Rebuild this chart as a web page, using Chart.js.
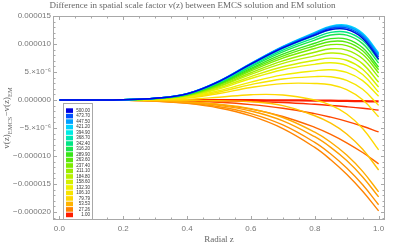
<!DOCTYPE html>
<html>
<head>
<meta charset="utf-8">
<script src="https://cdn.jsdelivr.net/npm/chart.js@4.4.1/dist/chart.umd.min.js"></script>
<style>
html,body{margin:0;padding:0;background:#fff}
#c{display:block}
</style>
</head>
<body>
<canvas id="c" width="409" height="248"></canvas>
<script>
/* ===== DATA (values in units of 1e-6) ===== */
const zs=[0,0.1,0.2,0.3,0.4,0.5,0.6,0.7,0.8,0.85,0.9,0.95,1];

const s500=[0,0,0.05,0.3,1.1,3.3,6.4,9.3,11.6,12.6,12.6,11.0,7.3];
const s474=[0,0,0.05,0.3,1.11,3.33,6.46,9.4,11.77,12.82,12.87,11.33,7.7];
const s448=[0,0,0.05,0.31,1.12,3.36,6.52,9.51,11.94,13.03,13.14,11.66,8.1];
const s421=[0,0,0.05,0.31,1.13,3.38,6.56,9.58,12.07,13.19,13.34,11.9,8.4];
const s395=[0,0,0.05,0.31,1.12,3.33,6.47,9.44,11.87,12.96,13.08,11.63,8.13];
const s369=[0,0,0.05,0.3,1.09,3.24,6.29,9.18,11.51,12.55,12.62,11.16,7.68];
const s342=[0,0,0.05,0.29,1.05,3.15,6.11,8.89,11.11,12.08,12.1,10.62,7.14];
const s316=[0,0,0.05,0.28,1.02,3.05,5.92,8.6,10.7,11.61,11.58,10.07,6.59];
const s290=[0,0,0.05,0.26,0.97,2.92,5.66,8.19,10.14,10.96,10.87,9.32,5.87];
const s264=[0,0,0.04,0.25,0.93,2.8,5.43,7.85,9.69,10.45,10.33,8.79,5.4];
const s237=[0,0,0.04,0.24,0.88,2.68,5.19,7.48,9.19,9.88,9.71,8.17,4.83];
const s211=[0,0,0.04,0.22,0.83,2.51,4.87,6.99,8.53,9.14,8.91,7.36,4.09];
const s185=[0,0,0.04,0.21,0.77,2.37,4.58,6.53,7.88,8.38,8.06,6.45,3.17];
const s159=[0,0,0.04,0.19,0.7,2.16,4.18,5.94,7.09,7.48,7.1,5.49,2.31];
const s140=[0,0,0.03,0.17,0.64,1.99,3.84,5.41,6.37,6.65,6.19,4.56,1.41];
const s125=[0,0,0.03,0.14,0.53,1.66,3.2,4.48,5.21,5.4,4.93,3.46,0.68];
const s110=[0,0,0.03,0.11,0.44,1.43,2.75,3.76,4.17,4.16,3.52,1.91,-0.96];
const s95=[0,0,0.02,0.08,0.34,1.17,2.24,2.93,2.95,2.72,1.84,0.03,-3.0];
const s80=[0,0,0.02,0.04,0.12,0.5,0.95,0.9,0.0,-0.9,-2.5,-5.08,-8.9];
const s65=[0,0,-0.01,-0.04,-0.08,-0.13,-0.3,-1.0,-2.81,-4.14,-6.06,-8.79,-12.5];
const s50=[0,0,-0.03,-0.13,-0.38,-0.77,-1.56,-3.12,-5.75,-7.54,-9.84,-12.75,-16.4];
const s42=[0,0,-0.03,-0.15,-0.45,-0.97,-1.96,-3.72,-6.56,-8.46,-10.82,-13.74,-17.3];
const s35=[0,0,-0.04,-0.18,-0.54,-1.21,-2.43,-4.46,-7.58,-9.65,-12.15,-15.15,-18.7];
const s28=[0,0,-0.04,-0.2,-0.61,-1.43,-2.85,-5.11,-8.47,-10.67,-13.27,-16.3,-19.8];
const s20=[0,0,-0.02,-0.11,-0.35,-0.82,-1.64,-2.94,-4.88,-6.14,-7.64,-9.38,-11.4];
const s12=[0,0,-0.01,-0.06,-0.18,-0.41,-0.82,-1.47,-2.44,-3.07,-3.82,-4.69,-5.7];
const s5=[0,0,0,-0.02,-0.06,-0.13,-0.26,-0.46,-0.77,-0.97,-1.21,-1.48,-1.8];
const s1=[0,0,0,0,-0.01,-0.02,-0.04,-0.06,-0.11,-0.13,-0.17,-0.21,-0.25];

// parameter of each curve (sets its colour), same order as seriesList
const params=[500,473.7,447.5,421.2,394.9,368.7,342.4,316.2,289.9,263.6,237.4,211.1,184.8,158.6,140,125,110,95,80,65,50,42,35,28,20,12,5,1];
const seriesList=[s500,s474,s448,s421,s395,s369,s342,s316,s290,s264,s237,s211,s185,s159,s140,s125,s110,s95,s80,s65,s50,s42,s35,s28,s20,s12,s5,s1];

const legendVals=[500,473.7,447.5,421.2,394.9,368.7,342.4,316.2,289.9,263.6,237.4,211.1,184.8,158.6,132.3,106.1,79.79,53.53,27.26,1];
const legendLabels=["500.00","473.70","447.50","421.20","394.90","368.70","342.40","316.20","289.90","263.60","237.40","211.10","184.80","158.60","132.30","106.10","79.79","53.53","27.26","1.00"];

const xTicks=[0,0.2,0.4,0.6,0.8,1.0];
const yTickVals=[-20,-15,-10,-5,0,5,10,15];
const yTickLabels=["\u22120.000020","\u22120.000015","\u22120.000010","\u22125.\u00d710\u207b\u2076","0.000000","5.\u00d710\u207b\u2076","0.000010","0.000015"];

const TITLE="Difference in spatial scale factor v(z) between EMCS solution and EM solution";

/* ===== COLOURS ===== */
const stops=[[1,[255,30,0]],[27,[255,130,0]],[53,[255,178,0]],[80,[255,215,0]],[132,[240,240,0]],[185,[185,240,0]],[237,[125,236,0]],[290,[55,230,25]],[340,[0,230,130]],[395,[0,236,228]],[421,[0,210,255]],[447,[0,160,255]],[474,[0,80,255]],[500,[0,0,225]]];
function colorOf(p){
  for(let i=1;i<stops.length;i++){
    if(p<=stops[i][0]){
      const a=stops[i-1],b=stops[i],t=(p-a[0])/(b[0]-a[0]);
      const c=a[1].map((v,k)=>Math.round(v+(b[1][k]-v)*t));
      return "rgb("+c.join(",")+")";
    }
  }
  return "rgb(0,0,225)";
}

/* ===== FRAME, TICKS, Y LABEL, LEGEND ===== */
const framePlugin={
  id:"frame",
  afterDraw(chart){
    const ctx=chart.ctx,a=chart.chartArea,xs=chart.scales.x,ys=chart.scales.y;
    ctx.save();
    ctx.strokeStyle="#a8a8a8";ctx.lineWidth=1;
    ctx.strokeRect(a.left+0.5,a.top+0.5,a.right-a.left-1,a.bottom-a.top-1);
    ctx.beginPath();
    for(let v=0;v<=1.0001;v+=0.05){
      const px=Math.round(xs.getPixelForValue(v))+0.5;
      const major=Math.abs(v/0.2-Math.round(v/0.2))<1e-6;
      const L=major?4:2.5;
      ctx.moveTo(px,a.bottom);ctx.lineTo(px,a.bottom-L);
      ctx.moveTo(px,a.top);ctx.lineTo(px,a.top+L);
    }
    for(let v=-21;v<=15;v++){
      const py=Math.round(ys.getPixelForValue(v))+0.5;
      const L=(v%5===0)?4:2.5;
      ctx.moveTo(a.left,py);ctx.lineTo(a.left+L,py);
      ctx.moveTo(a.right,py);ctx.lineTo(a.right-L,py);
    }
    ctx.stroke();

    // y axis label with subscripts
    ctx.fillStyle="#666";
    const big="9px 'Liberation Serif'",small="6.5px 'Liberation Serif'";
    const parts=[["v(z)",big,0],["EMCS",small,2.5],["\u2212v(z)",big,0],["EM",small,2.5]];
    let w=0;
    parts.forEach(p=>{ctx.font=p[1];w+=ctx.measureText(p[0]).width;});
    ctx.translate(9,(a.top+a.bottom)/2);
    ctx.rotate(-Math.PI/2);
    ctx.textBaseline="alphabetic";ctx.textAlign="left";
    let x=-w/2;
    parts.forEach(p=>{ctx.font=p[1];ctx.fillText(p[0],x,p[2]);x+=ctx.measureText(p[0]).width;});
    ctx.restore();

    // legend box
    ctx.save();
    ctx.fillStyle="#fff";ctx.strokeStyle="#a8a8a8";ctx.lineWidth=1;
    ctx.fillRect(63.5,103.5,29,116);ctx.strokeRect(63.5,103.5,29,116);
    ctx.font="4.5px 'Liberation Sans'";ctx.textAlign="right";ctx.textBaseline="middle";
    legendVals.forEach((p,i)=>{
      const y=108.3+i*5.49;
      ctx.fillStyle=colorOf(p);
      ctx.fillRect(66,y,7,4.6);
      ctx.fillStyle="#333";
      ctx.fillText(legendLabels[i],90,y+2.4);
    });
    ctx.restore();
  }
};

/* ===== CHART ===== */
const datasets=seriesList.map((s,i)=>({
  data:s.map((v,k)=>({x:zs[k],y:v})),
  borderColor:colorOf(params[i]),
  borderWidth:params[i]===1?2.2:1.4,
  pointRadius:0,
  fill:false,
  tension:0.4
}));

new Chart(document.getElementById("c"),{
  type:"line",
  data:{datasets:datasets},
  options:{
    responsive:false,
    animation:false,
    layout:{padding:{left:0,right:24,top:0,bottom:0}},
    plugins:{
      legend:{display:false},
      tooltip:{enabled:false},
      title:{display:true,text:TITLE,color:"#666",font:{family:"Liberation Serif",size:9,weight:"normal"},padding:{top:0,bottom:5.2}}
    },
    scales:{
      x:{
        type:"linear",min:-0.02,max:1.02,
        afterBuildTicks:s=>{s.ticks=xTicks.map(v=>({value:v}));},
        afterFit:s=>{s.height=28;},
        grid:{display:false,drawTicks:false},
        border:{display:false},
        ticks:{color:"#777",font:{family:"Liberation Sans",size:8},padding:4,maxRotation:0,autoSkip:false,callback:v=>v.toFixed(1)},
        title:{display:true,text:"Radial z",color:"#666",font:{family:"Liberation Serif",size:9},padding:{top:0,bottom:2.6}}
      },
      y:{
        type:"linear",min:-21.43,max:15,
        afterBuildTicks:s=>{s.ticks=yTickVals.map(v=>({value:v}));},
        afterFit:s=>{s.width=53;},
        grid:{display:false,drawTicks:false},
        border:{display:false},
        ticks:{color:"#777",font:{family:"Liberation Sans",size:8},padding:2,autoSkip:false,callback:(v,i)=>yTickLabels[i]}
      }
    }
  },
  plugins:[framePlugin]
});
</script>
</body>
</html>
